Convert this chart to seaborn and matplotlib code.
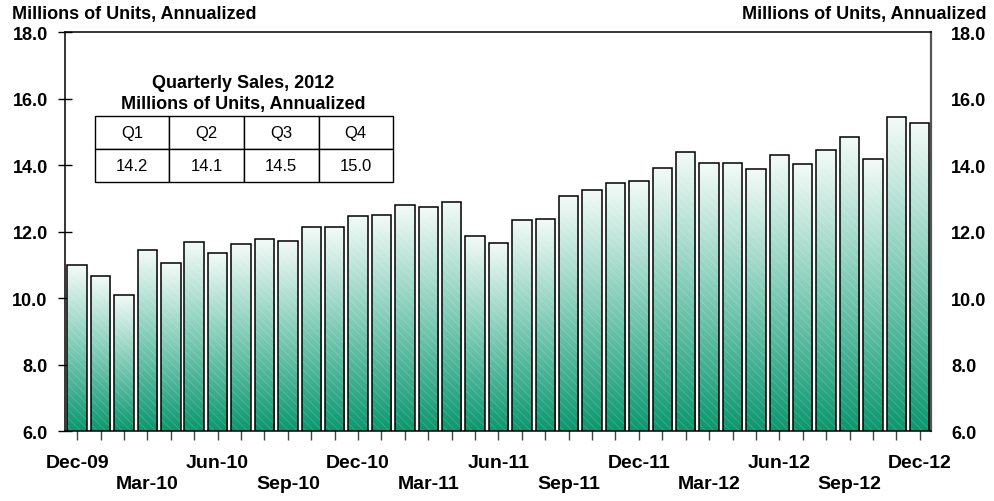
import numpy as np
import pandas as pd
import seaborn as sns
import matplotlib
matplotlib.use("Agg")
import matplotlib.pyplot as plt
from matplotlib.colors import LinearSegmentedColormap

# ---------------- data ----------------
months = [d.strftime("%b-%y") for d in pd.date_range("2009-12-01", "2012-12-01", freq="MS")]
sales = [11.0, 10.68, 10.1, 11.46, 11.07, 11.69, 11.37, 11.64, 11.79, 11.74,
         12.15, 12.15, 12.47, 12.5, 12.8, 12.74, 12.9, 11.87, 11.66, 12.35,
         12.39, 13.08, 13.26, 13.47, 13.52, 13.92, 14.4, 14.07, 14.07, 13.9,
         14.31, 14.03, 14.46, 14.85, 14.19, 15.45, 15.28]
quarters = ["Q1", "Q2", "Q3", "Q4"]
quarterly_sales = ["14.2", "14.1", "14.5", "15.0"]
y_ticks = [6, 8, 10, 12, 14, 16, 18]
axis_title = "Millions of Units, Annualized"
table_title = "Quarterly Sales, 2012\nMillions of Units, Annualized"

df = pd.DataFrame({"month": months, "sales": sales})

# ---------------- style ----------------
sns.set_theme(style="white")
plt.rcParams["font.family"] = ["Liberation Sans", "DejaVu Sans"]
plt.rcParams["hatch.linewidth"] = 0.6
plt.rcParams["text.color"] = "black"
plt.rcParams["xtick.labelcolor"] = "black"
plt.rcParams["ytick.labelcolor"] = "black"

fig = plt.figure(figsize=(9.94, 5.02), dpi=100)
fig.patch.set_facecolor("white")
ax = fig.add_axes([0.0654, 0.1385, 0.8712, 0.7952])
ax.set_facecolor("white")

cmap = LinearSegmentedColormap.from_list("grn", ["#0b976f", "#7fcbb5", "#f4fbf8"])
YMIN, YMAX = 6, 18

# hatch layer
sns.barplot(data=df, x="month", y="sales", ax=ax, width=0.83, color="white", zorder=2.5)
hatch_patches = list(ax.patches)
for p in hatch_patches:
    p.set_facecolor("none")
    p.set_edgecolor((1, 1, 1, 0.18))
    p.set_linewidth(0)
    p.set_hatch("\\\\\\\\")

# outline + gradient layer
sns.barplot(data=df, x="month", y="sales", ax=ax, width=0.83, color="white",
            edgecolor="black", linewidth=1.1, zorder=3)
bars = ax.patches[len(hatch_patches):]
grad = np.linspace(0, 1, 256).reshape(-1, 1)
for p in bars:
    x0 = p.get_x()
    w = p.get_width()
    h = p.get_height()
    p.set_facecolor("none")
    im = ax.imshow(grad, cmap=cmap, origin="lower", aspect="auto",
                   extent=[x0, x0 + w, YMIN, h], zorder=2, interpolation="bilinear")
    im.set_clip_path(p)

ax.set_xlim(-0.52, 36.48)
ax.set_ylim(YMIN, YMAX)
ax.set_xlabel("")
ax.set_ylabel("")

# x ticks
xt_labels = []
for i, lab in enumerate(months):
    if i % 3:
        xt_labels.append("")
    elif (i // 3) % 2 == 0:
        xt_labels.append(lab)
    else:
        xt_labels.append("\n" + lab)
ax.set_xticks(range(len(months)))
ax.set_xticklabels(xt_labels, fontsize=14, fontweight="bold", linespacing=1.3)
ax.tick_params(axis="x", direction="inout", length=13, width=1.0, color="#444444",
               pad=10, bottom=True)

# y ticks left
ax.set_yticks(y_ticks)
ax.set_yticklabels([f"{v:.1f}" for v in y_ticks], fontsize=13, fontweight="bold")
ax.tick_params(axis="y", direction="inout", length=10, width=1.0, color="black",
               pad=7.5, left=True)

for s in ax.spines.values():
    s.set_visible(True)
    s.set_color("black")
    s.set_linewidth(1.1)
ax.spines["right"].set_color("#555555")
ax.spines["right"].set_linewidth(1.6)

# right axis labels
ax2 = ax.twinx()
ax2.set_ylim(YMIN, YMAX)
ax2.set_yticks(y_ticks)
ax2.set_yticklabels([f"{v:.1f}" for v in y_ticks], fontsize=13, fontweight="bold")
ax2.tick_params(axis="y", length=0, pad=14.5, right=True)
for s in ax2.spines.values():
    s.set_visible(False)

# axis titles
fig.text(12.5 / 994, 1 - 14 / 502, axis_title, ha="left", va="center",
         fontsize=13, fontweight="bold")
fig.text(986 / 994, 1 - 14 / 502, axis_title, ha="right", va="center",
         fontsize=13, fontweight="bold")

# inset table
ax.text(0.2055, 0.848, table_title, transform=ax.transAxes, ha="center", va="center",
        fontsize=13, fontweight="bold", linespacing=1.35, zorder=5)
tbl = ax.table(cellText=[quarterly_sales], colLabels=quarters, cellLoc="center",
               bbox=[0.0346, 0.6257, 0.3442, 0.1639], zorder=5)
tbl.auto_set_font_size(False)
tbl.set_fontsize(12)
for (r, c), cell in tbl.get_celld().items():
    cell.set_edgecolor("black")
    cell.set_linewidth(1.0)
    cell.set_facecolor("white")
    cell.get_text().set_color("black")

fig.savefig("out.png", dpi=100, facecolor="white")
